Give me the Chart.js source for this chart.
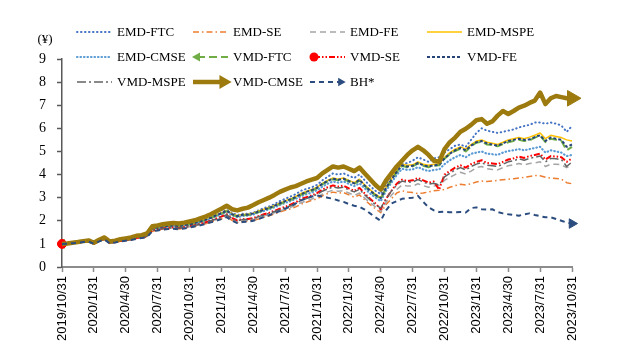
<!DOCTYPE html>
<html><head><meta charset="utf-8">
<script src="https://cdn.jsdelivr.net/npm/chart.js@4.4.1/dist/chart.umd.min.js"></script>
<style>html,body{margin:0;padding:0;background:#fff;}canvas{display:block;}</style>
</head><body>
<canvas id="c" width="628" height="357"></canvas>
<script>
const dates = [
"2019/10/31","2019/11/15","2019/11/30","2019/12/15","2019/12/31",
"2020/1/15","2020/1/31","2020/2/15","2020/2/29","2020/3/15","2020/3/31","2020/4/15","2020/4/30","2020/5/15","2020/5/31","2020/6/15","2020/6/30",
"2020/7/15","2020/7/31","2020/8/15","2020/8/31","2020/9/15","2020/9/30","2020/10/15","2020/10/31",
"2020/11/15","2020/11/30","2020/12/15","2020/12/31","2021/1/15","2021/1/31","2021/2/15","2021/2/28","2021/3/15","2021/3/31","2021/4/15","2021/4/30",
"2021/5/15","2021/5/31","2021/6/15","2021/6/30","2021/7/15","2021/7/31","2021/8/15","2021/8/31","2021/9/15","2021/9/30","2021/10/15","2021/10/31",
"2021/11/15","2021/11/30","2021/12/15","2021/12/31","2022/1/15","2022/1/31","2022/2/15","2022/2/28","2022/3/15","2022/3/31","2022/4/15","2022/4/30",
"2022/5/15","2022/5/31","2022/6/15","2022/6/30","2022/7/15","2022/7/31","2022/8/15","2022/8/31","2022/9/15","2022/9/30","2022/10/15","2022/10/31",
"2022/11/15","2022/11/30","2022/12/15","2022/12/31","2023/1/15","2023/1/31","2023/2/15","2023/2/28","2023/3/15","2023/3/31","2023/4/15","2023/4/30",
"2023/5/15","2023/5/31","2023/6/15","2023/6/30","2023/7/15","2023/7/31","2023/8/15","2023/8/31","2023/9/15","2023/9/30","2023/10/15","2023/10/31"
];
const quarterTicks = ["2019/10/31","2020/1/31","2020/4/30","2020/7/31","2020/10/31","2021/1/31","2021/4/30","2021/7/31","2021/10/31","2022/1/31","2022/4/30","2022/7/31","2022/10/31","2023/1/31","2023/4/30","2023/7/31","2023/10/31"];
const yTicks = [0,1,2,3,4,5,6,7,8,9];
const unitLabel = "(¥)";

const emdFTC = [1.00,1.02,1.04,1.07,1.11,1.13,1.03,1.16,1.25,1.08,1.12,1.17,1.21,1.24,1.30,1.33,1.39,
1.66,1.70,1.74,1.77,1.79,1.76,1.80,1.85,
1.90,1.97,2.04,2.13,2.24,2.35,2.48,2.33,2.25,2.30,2.30,2.35,
2.45,2.55,2.62,2.72,2.85,2.95,3.05,3.15,3.30,3.38,3.45,3.55,
3.75,3.90,4.05,4.00,4.05,3.95,3.85,4.00,3.75,3.50,3.30,3.15,
3.55,3.85,4.30,4.45,4.50,4.60,4.75,4.65,4.55,4.70,4.75,4.95,
5.10,5.25,5.30,5.20,5.50,5.80,6.00,5.90,5.85,5.80,5.85,5.90,
5.95,6.04,6.10,6.15,6.25,6.25,6.20,6.25,6.20,6.12,5.85,6.10];
const emdSE = [1.00,1.01,1.03,1.05,1.08,1.10,1.00,1.11,1.19,1.02,1.06,1.11,1.14,1.17,1.23,1.25,1.30,
1.55,1.59,1.62,1.65,1.67,1.64,1.68,1.72,
1.76,1.81,1.87,1.94,2.02,2.08,2.18,2.02,1.92,1.97,1.98,2.02,
2.08,2.15,2.22,2.30,2.38,2.45,2.52,2.60,2.72,2.80,2.88,2.95,
3.08,3.18,3.24,3.20,3.22,3.12,3.02,3.12,2.90,2.70,2.52,2.35,
2.70,2.95,3.20,3.30,3.25,3.22,3.18,3.20,3.25,3.30,3.32,3.35,
3.45,3.52,3.58,3.55,3.60,3.68,3.72,3.70,3.72,3.75,3.78,3.80,
3.82,3.85,3.88,3.92,3.96,3.95,3.88,3.85,3.83,3.80,3.65,3.60];
const emdFE = [1.00,1.01,1.03,1.05,1.08,1.10,1.00,1.12,1.20,1.03,1.07,1.12,1.15,1.18,1.24,1.26,1.31,
1.57,1.61,1.65,1.67,1.69,1.66,1.70,1.74,
1.78,1.84,1.90,1.97,2.05,2.12,2.22,2.06,1.96,2.01,2.02,2.06,
2.13,2.20,2.27,2.35,2.43,2.50,2.58,2.67,2.78,2.86,2.94,3.02,
3.15,3.25,3.32,3.28,3.30,3.20,3.10,3.20,2.98,2.78,2.60,2.40,
2.80,3.10,3.35,3.55,3.50,3.50,3.60,3.52,3.45,3.50,3.55,3.75,
3.88,4.00,4.10,4.02,4.15,4.30,4.35,4.25,4.22,4.20,4.30,4.38,
4.42,4.48,4.42,4.48,4.50,4.55,4.35,4.45,4.45,4.42,4.30,4.40];
const emdMSPE = [1.00,1.02,1.04,1.07,1.11,1.14,1.04,1.17,1.26,1.09,1.13,1.18,1.22,1.26,1.32,1.35,1.41,
1.68,1.72,1.76,1.78,1.80,1.77,1.81,1.86,
1.91,1.98,2.05,2.14,2.25,2.33,2.45,2.30,2.22,2.27,2.28,2.33,
2.42,2.50,2.58,2.66,2.76,2.86,2.95,3.05,3.18,3.27,3.35,3.45,
3.62,3.75,3.85,3.80,3.85,3.75,3.65,3.80,3.55,3.35,3.15,3.00,
3.45,3.80,4.20,4.45,4.40,4.42,4.55,4.45,4.40,4.45,4.45,4.75,
4.95,5.10,5.20,5.10,5.30,5.45,5.50,5.40,5.35,5.30,5.40,5.50,
5.55,5.60,5.55,5.62,5.70,5.80,5.55,5.70,5.65,5.60,5.50,5.45];
const emdCMSE = [1.00,1.02,1.04,1.06,1.10,1.13,1.03,1.15,1.24,1.07,1.11,1.16,1.20,1.24,1.30,1.33,1.38,
1.65,1.69,1.73,1.76,1.78,1.75,1.79,1.83,
1.88,1.94,2.01,2.10,2.20,2.28,2.40,2.24,2.15,2.21,2.22,2.27,
2.35,2.42,2.50,2.58,2.68,2.77,2.85,2.95,3.06,3.15,3.22,3.32,
3.48,3.60,3.70,3.65,3.70,3.60,3.50,3.62,3.40,3.18,3.00,2.85,
3.30,3.65,3.98,4.25,4.20,4.22,4.32,4.22,4.15,4.20,4.22,4.45,
4.62,4.75,4.85,4.75,4.90,4.95,5.00,4.90,4.88,4.85,4.95,5.02,
5.05,5.10,5.05,5.10,5.15,5.20,4.95,5.05,5.00,4.95,4.80,4.85];
const vmdFTC = [1.00,1.02,1.04,1.07,1.10,1.13,1.04,1.16,1.25,1.08,1.12,1.17,1.21,1.25,1.31,1.34,1.40,
1.66,1.70,1.74,1.77,1.79,1.76,1.80,1.84,
1.89,1.96,2.03,2.12,2.22,2.30,2.42,2.27,2.18,2.24,2.25,2.30,
2.38,2.46,2.54,2.62,2.72,2.82,2.90,3.00,3.12,3.22,3.30,3.40,
3.57,3.70,3.80,3.75,3.80,3.70,3.60,3.74,3.50,3.28,3.10,2.95,
3.40,3.75,4.10,4.38,4.32,4.35,4.48,4.38,4.32,4.38,4.40,4.68,
4.88,5.02,5.12,5.00,5.22,5.38,5.42,5.30,5.28,5.22,5.32,5.40,
5.45,5.50,5.45,5.47,5.60,5.68,5.40,5.55,5.50,5.45,5.05,5.20];
const vmdSE = [1.00,1.01,1.03,1.05,1.09,1.11,1.01,1.13,1.21,1.04,1.08,1.13,1.16,1.20,1.26,1.28,1.33,
1.60,1.63,1.67,1.70,1.72,1.69,1.73,1.77,
1.81,1.87,1.93,2.01,2.10,2.18,2.28,2.12,2.02,2.07,2.08,2.12,
2.20,2.28,2.35,2.43,2.52,2.60,2.70,2.80,2.95,3.02,3.10,3.20,
3.35,3.45,3.53,3.48,3.52,3.40,3.30,3.42,3.18,2.95,2.75,2.50,
2.95,3.30,3.60,3.78,3.72,3.75,3.85,3.75,3.65,3.70,3.35,4.00,
4.15,4.30,4.40,4.30,4.45,4.55,4.62,4.50,4.48,4.45,4.55,4.65,
4.70,4.78,4.72,4.80,4.85,4.90,4.65,4.80,4.78,4.75,4.55,4.70];
const vmdFE = [1.00,1.02,1.05,1.07,1.11,1.14,1.04,1.17,1.26,1.09,1.13,1.18,1.22,1.26,1.32,1.35,1.41,
1.67,1.71,1.75,1.78,1.80,1.77,1.81,1.85,
1.90,1.97,2.04,2.13,2.24,2.32,2.44,2.29,2.20,2.26,2.27,2.32,
2.40,2.48,2.56,2.65,2.76,2.85,2.93,3.03,3.15,3.25,3.33,3.43,
3.60,3.72,3.82,3.78,3.82,3.72,3.62,3.77,3.52,3.30,3.12,2.98,
3.42,3.77,4.12,4.40,4.35,4.38,4.50,4.40,4.35,4.40,4.42,4.70,
4.90,5.05,5.15,5.05,5.25,5.40,5.45,5.35,5.30,5.25,5.35,5.45,
5.50,5.55,5.50,5.52,5.62,5.70,5.45,5.60,5.55,5.50,5.20,5.30];
const vmdMSPE = [1.00,1.01,1.03,1.05,1.09,1.11,1.01,1.13,1.21,1.04,1.08,1.13,1.16,1.19,1.25,1.28,1.33,
1.59,1.62,1.66,1.69,1.71,1.68,1.72,1.76,
1.80,1.86,1.92,2.00,2.08,2.16,2.26,2.10,2.00,2.05,2.06,2.10,
2.18,2.25,2.32,2.40,2.48,2.56,2.65,2.75,2.88,2.96,3.04,3.14,
3.28,3.38,3.46,3.42,3.45,3.34,3.25,3.36,3.12,2.90,2.70,2.55,
2.95,3.28,3.55,3.72,3.66,3.68,3.78,3.68,3.58,3.62,3.55,3.90,
4.05,4.20,4.30,4.20,4.35,4.45,4.52,4.40,4.38,4.35,4.45,4.55,
4.60,4.68,4.62,4.70,4.75,4.80,4.55,4.70,4.68,4.65,4.35,4.55];
const vmdCMSE = [1.00,1.02,1.05,1.08,1.12,1.15,1.05,1.18,1.28,1.10,1.14,1.20,1.24,1.28,1.35,1.38,1.45,
1.76,1.80,1.85,1.88,1.90,1.88,1.92,1.97,
2.02,2.10,2.18,2.28,2.40,2.52,2.65,2.50,2.45,2.52,2.57,2.68,
2.80,2.90,3.00,3.12,3.25,3.35,3.44,3.50,3.60,3.70,3.78,3.85,
4.05,4.20,4.35,4.30,4.35,4.25,4.15,4.30,4.05,3.80,3.55,3.35,
3.75,4.05,4.35,4.60,4.85,5.05,5.20,5.05,4.85,4.60,4.55,5.10,
5.40,5.60,5.85,5.98,6.15,6.35,6.40,6.20,6.30,6.55,6.75,6.62,
6.75,6.90,6.98,7.10,7.20,7.55,7.05,7.30,7.40,7.35,7.30,7.30];
const bh = [1.00,1.01,1.03,1.05,1.08,1.10,1.00,1.11,1.19,1.02,1.06,1.11,1.14,1.17,1.22,1.25,1.30,
1.55,1.58,1.62,1.64,1.66,1.63,1.67,1.71,
1.75,1.80,1.86,1.93,2.00,2.07,2.16,2.00,1.90,1.95,1.96,2.00,
2.08,2.16,2.24,2.33,2.42,2.52,2.62,2.75,2.88,2.98,3.05,3.10,
3.05,3.00,2.95,2.88,2.82,2.72,2.65,2.60,2.48,2.32,2.15,2.00,
2.45,2.75,2.85,2.95,2.98,3.00,3.08,2.82,2.58,2.45,2.38,2.40,
2.37,2.37,2.38,2.36,2.55,2.58,2.50,2.48,2.50,2.38,2.32,2.28,
2.25,2.22,2.28,2.32,2.25,2.20,2.15,2.15,2.08,2.00,1.92,1.88];

const seriesNames = ["EMD-FTC","EMD-SE","EMD-FE","EMD-MSPE","EMD-CMSE","VMD-FTC","VMD-SE","VMD-FE","VMD-MSPE","VMD-CMSE","BH*"];
const seriesData = [emdFTC,emdSE,emdFE,emdMSPE,emdCMSE,vmdFTC,vmdSE,vmdFE,vmdMSPE,vmdCMSE,bh];

const styles = [
  {c:'#4472C4', w:2,   dash:[0.5,3.5], cap:'round'},
  {c:'#ED7D31', w:1.5, dash:[6,3,1.5,3]},
  {c:'#A5A5A5', w:1.5, dash:[6,4]},
  {c:'#FFC000', w:1.5, dash:[]},
  {c:'#5B9BD5', w:2.2, dash:[0.5,3], cap:'round'},
  {c:'#70AD47', w:2,   dash:[8,4], marker:'start', mstyle:'triangle', mrot:-90, mr:5},
  {c:'#FF0000', w:2,   dash:[6,2,1.5,2,1.5,2], marker:'start', mstyle:'circle', mrot:0, mr:4.5},
  {c:'#264478', w:2,   dash:[3,2]},
  {c:'#636363', w:1.5, dash:[9,3,2,3]},
  {c:'#9C7A0E', w:4.5, dash:[], marker:'end', mstyle:'triangle', mrot:90, mr:9},
  {c:'#2B4C7E', w:2,   dash:[5,4], marker:'end', mstyle:'triangle', mrot:90, mr:5.5}
];

const datasets = seriesNames.map((name,i)=>{
  const s = styles[i];
  const last = seriesData[i].length-1;
  const isM = (idx)=> s.marker==='start' ? idx===0 : (s.marker==='end' ? idx===last : false);
  return {
    label:name, data:seriesData[i], borderColor:s.c, backgroundColor:s.c,
    borderWidth:s.w, borderDash:s.dash, borderCapStyle:s.cap||'butt', borderJoinStyle:'round',
    tension:0, fill:false, clip:false, order:-i,
    pointRadius:(ctx)=> isM(ctx.dataIndex) ? s.mr : 0,
    pointStyle:s.mstyle||'circle', pointRotation:s.mrot||0,
    pointBackgroundColor:s.c, pointBorderColor:s.c, pointBorderWidth:1,
    pointHoverRadius:0, _st:s
  };
});

function drawMarker(ctx, style, x, y, r, rot, color){
  ctx.save();
  ctx.fillStyle=color; ctx.strokeStyle=color; ctx.setLineDash([]);
  if(style==='circle'){ ctx.beginPath(); ctx.arc(x,y,r,0,Math.PI*2); ctx.fill(); }
  else {
    ctx.translate(x,y); ctx.rotate(rot*Math.PI/180);
    ctx.beginPath(); ctx.moveTo(0,-r); ctx.lineTo(r*0.9,r*0.6); ctx.lineTo(-r*0.9,r*0.6); ctx.closePath(); ctx.fill();
  }
  ctx.restore();
}

const legendPlugin = {
  id:'gridLegend',
  afterDraw(chart){
    const ctx = chart.ctx;
    const cols=[77,193,310,427], rows=[32,57,82];
    chart.data.datasets.forEach((ds,i)=>{
      const s = ds._st;
      const x0=cols[i%4], x1=x0+35, y=rows[Math.floor(i/4)];
      ctx.save();
      ctx.strokeStyle=s.c; ctx.lineWidth=s.w; ctx.setLineDash(s.dash); ctx.lineCap=s.cap||'butt';
      ctx.beginPath();
      const xs = s.marker==='start' ? x0+4 : x0;
      const xe = s.marker==='end' ? x1-6 : x1;
      ctx.moveTo(xs,y); ctx.lineTo(xe,y); ctx.stroke();
      if(s.marker==='start') drawMarker(ctx, s.mstyle, x0+4, y, s.mr, s.mrot, s.c);
      if(s.marker==='end') drawMarker(ctx, s.mstyle, x1-4, y, s.mr*0.85, s.mrot, s.c);
      ctx.fillStyle='#000'; ctx.font='13px "Liberation Serif", "Times New Roman", serif';
      ctx.textBaseline='middle'; ctx.textAlign='left';
      ctx.fillText(ds.label, x1+5, y+1);
      ctx.restore();
    });
    ctx.save();
    ctx.fillStyle='#000'; ctx.font='13px "Liberation Serif", "Times New Roman", serif';
    ctx.textAlign='center'; ctx.textBaseline='middle';
    ctx.fillText(unitLabel, 45, 40);
    ctx.restore();
  }
};

new Chart(document.getElementById('c'), {
  type:'line',
  data:{labels:dates, datasets},
  options:{
    responsive:false, animation:false, devicePixelRatio:1,
    layout:{padding:{left:0, top:59, right:56, bottom:0}},
    plugins:{legend:{display:false}, tooltip:{enabled:false}},
    scales:{
      x:{
        type:'category', offset:false,
        border:{display:true, color:'#8c8c8c', width:2},
        grid:{display:true, drawOnChartArea:false, drawTicks:true, tickLength:5,
              tickColor:(c)=> quarterTicks.includes(dates[c.index]) ? '#8c8c8c' : 'rgba(0,0,0,0)', tickWidth:1.5},
        ticks:{autoSkip:false, maxRotation:90, minRotation:90, padding:4, color:'#000',
               font:{family:'"Liberation Sans", Arial, sans-serif', size:13},
               callback:(v,idx)=> quarterTicks.includes(dates[idx]) ? dates[idx] : ''},
        afterFit:(s)=>{ s.height = 90; }
      },
      y:{
        min:0, max:9,
        afterBuildTicks:(s)=>{ s.ticks = yTicks.map(v=>({value:v})); },
        border:{display:true, color:'#595959', width:1.5},
        grid:{display:true, drawOnChartArea:false, drawTicks:true, tickLength:5, tickColor:'#595959', tickWidth:1.5},
        ticks:{padding:11, color:'#000', font:{family:'"Liberation Serif", "Times New Roman", serif', size:14}},
        afterFit:(s)=>{ s.width = 62; }
      }
    }
  },
  plugins:[legendPlugin]
});
</script>
</body></html>
